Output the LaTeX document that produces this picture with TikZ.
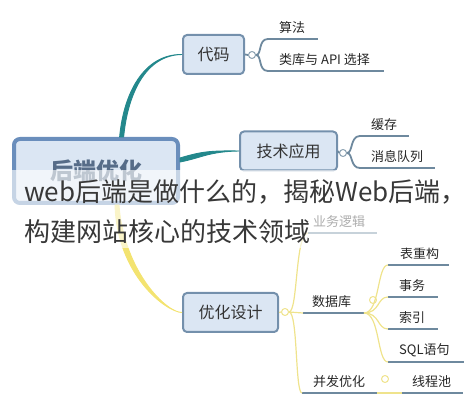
\documentclass[tikz,border=0pt]{standalone}
\usepackage{fontspec}
\setmainfont{Noto Sans CJK SC}
\definecolor{boxfill}{HTML}{DBE6F3}
\definecolor{boxline}{HTML}{7490AC}
\definecolor{rootline}{HTML}{6A8EBC}
\definecolor{roottext}{HTML}{566C88}
\definecolor{ulinecol}{HTML}{6E899E}
\definecolor{tealbr}{HTML}{23888C}
\definecolor{yellowbr}{HTML}{F3E370}
\definecolor{ythin}{HTML}{EFE38C}
\definecolor{captext}{HTML}{383838}
\tikzset{
  rootbox/.style={draw=rootline,fill=boxfill,line width=4bp,rounded corners=6bp,
    minimum width=164bp,minimum height=64bp,text=roottext,
    font=\fontsize{23bp}{26bp}\selectfont\bfseries},
  topic/.style={draw=boxline,fill=boxfill,line width=2bp,rounded corners=4bp,
    minimum height=39bp,text=black!80,font=\fontsize{16bp}{19bp}\selectfont},
  leaf/.style={anchor=south west,inner xsep=11bp,inner ysep=5bp,text=black!85,
    font=\fontsize{13bp}{15bp}\selectfont},
  fold/.style={circle,draw=#1,fill=white,line width=1bp,minimum size=7bp,inner sep=0pt},
  fold/.default=ulinecol!80,
  uline/.style={ulinecol,line width=2.5bp},
  bracket/.style={ulinecol,line width=1.8bp},
  ybracket/.style={ythin,line width=1.2bp},
  caption/.style={anchor=west,inner sep=0pt,text=captext,
    font=\fontsize{26bp}{30bp}\selectfont},
}
\begin{document}
\begin{tikzpicture}[>=latex,line join=bevel,]
\useasboundingbox (0bp,0bp) rectangle (476bp,405bp);
%%
\node (root) at (96.0bp,234.0bp) [rootbox] {后端优化};
  \node (daima) at (213.5bp,350.5bp) [topic,minimum width=61bp] {代码};
  \node (jishu) at (288.5bp,254.0bp) [topic,minimum width=97bp] {技术应用};
  \node (youhua) at (230.5bp,92.5bp) [topic,minimum width=95bp] {优化设计};
%
  \node (c1) at (252.0bp,350.0bp) [fold] {};
  \node (c2) at (343.0bp,252.0bp) [fold] {};
  \node (c3) at (285.0bp,93.0bp) [fold=ythin] {};
  \node (c4) at (373.0bp,105.0bp) [fold=ythin] {};
  \node (c5) at (385.0bp,26.0bp) [fold=ythin] {};
%
  \node (suanfa) at (268.0bp,366.0bp) [leaf] {算法};
  \node (leiku) at (268.0bp,334.0bp) [leaf] {类库与 API 选择};
  \node (huancun) at (360.0bp,269.0bp) [leaf] {缓存};
  \node (xiaoxi) at (360.0bp,237.0bp) [leaf] {消息队列};
  \node (yewu) at (308.0bp,172.0bp) [leaf,inner xsep=5bp] {业务逻辑};
  \node (shujuku) at (303.0bp,92.0bp) [leaf,inner xsep=9bp] {数据库};
  \node (bingfa) at (302.0bp,12.0bp) [leaf] {并发优化};
  \node (biao) at (388.0bp,140.0bp) [leaf,inner xsep=12bp] {表重构};
  \node (shiwu) at (388.0bp,108.0bp) [leaf] {事务};
  \node (suoyin) at (388.0bp,76.0bp) [leaf] {索引};
  \node (sqlyj) at (388.0bp,43.0bp) [leaf] {SQL语句};
  \node (xiancheng) at (402.0bp,12.0bp) [leaf,inner xsep=10bp] {线程池};
  \coordinate (dbend) at (364.0bp,92.0bp);
  \coordinate (dbx) at (377.0bp,0bp);
  \coordinate (bfend) at (377.0bp,12.0bp);
%
  \foreach \n/\l in {suanfa/50,leiku/116,huancun/49,xiaoxi/75,yewu/69,shujuku/61,
      bingfa/75,biao/61,shiwu/50,suoyin/50,sqlyj/76,xiancheng/61}
    \draw [uline] (\n.south west) -- ++(\l bp,0bp);
%
  \filldraw [tealbr,line width=0.9bp] ([xshift=-2bp]root.53) ..controls +(4bp,44bp) and +(-38bp,0.5bp) .. (daima.west)
    ..controls +(-37bp,-0.5bp) and +(4bp,42bp) .. ([xshift=2bp]root.53) -- cycle;
  \filldraw [tealbr,line width=0.9bp] ([yshift=13bp]root.east) ..controls +(20bp,6bp) and +(-30bp,0.5bp) .. (jishu.west)
    ..controls +(-30bp,-0.5bp) and +(21bp,4bp) .. ([yshift=9bp]root.east) -- cycle;
  \filldraw [yellowbr,line width=0.9bp] ([xshift=19bp]root.south) ..controls +(2bp,-70bp) and +(-16bp,0.5bp) .. (youhua.west)
    ..controls +(-15bp,-0.5bp) and +(5bp,-67bp) .. ([xshift=23bp]root.south) -- cycle;
%
  \draw [bracket] (daima.east) -- (c1.west);
  \draw [bracket] (c1.east) ..controls (262bp,350bp) and (258bp,366bp) .. (suanfa.south west);
  \draw [bracket] (c1.east) ..controls (262bp,350bp) and (258bp,334bp) .. (leiku.south west);
  \draw [bracket] (jishu.east) -- (c2.west);
  \draw [bracket] (c2.east) ..controls (353bp,252bp) and (350bp,269bp) .. (huancun.south west);
  \draw [bracket] (c2.east) ..controls (353bp,252bp) and (350bp,237bp) .. (xiaoxi.south west);
  \draw [ybracket] (youhua.east) -- (c3.west);
  \draw [ybracket] (c3.east) ..controls (298bp,93bp) and (295bp,172bp) .. (yewu.south west);
  \draw [ybracket] (c3.east) -- (shujuku.south west);
  \draw [ybracket] (c3.east) ..controls (298bp,93bp) and (295bp,12bp) .. (bingfa.south west);
  \foreach \n in {biao,shiwu,suoyin,sqlyj}
    \draw [ybracket] (dbend) ..controls (380bp,92bp) and (dbx |- \n.south west) .. (\n.south west);
  \draw [ybracket] (bfend) -- (xiancheng.south west);
%
  \fill [white,opacity=0.62] (0bp,157bp) rectangle (476bp,235bp);
  \node (cap1) at (24.0bp,213.0bp) [caption] {web后端是做什么的，揭秘Web后端，};
  \node (cap2) at (24.0bp,173.0bp) [caption] {构建网站核心的技术领域};
%
\end{tikzpicture}
\end{document}
